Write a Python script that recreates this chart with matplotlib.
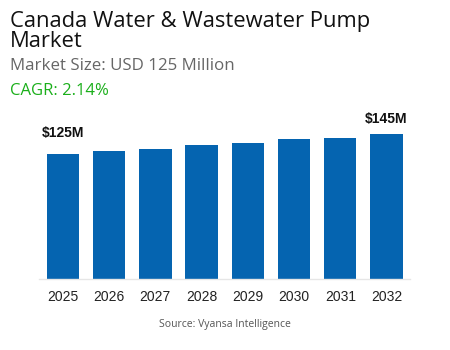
import matplotlib
matplotlib.use("Agg")
import matplotlib.pyplot as plt

years = ["2025", "2026", "2027", "2028", "2029", "2030", "2031", "2032"]
values = [125, 127.6, 130.5, 134.3, 136.2, 140.1, 141.5, 145]
first_label = "$125M"
last_label = "$145M"

title = "Canada Water & Wastewater Pump\nMarket"
subtitle = "Market Size: USD 125 Million"
cagr = "CAGR: 2.14%"
source = "Source: Vyansa Intelligence"

bar_color = "#0564b0"

fig = plt.figure(figsize=(4.5, 3.5), dpi=100)
fig.patch.set_facecolor("white")

ax = fig.add_axes([0.0873, 0.2029, 0.824, 0.457])
x = range(len(years))
ax.bar(x, values, width=0.7, color=bar_color, zorder=2)
ax.set_xlim(-0.51, len(years) - 0.49)
ax.set_ylim(0, 160)
ax.set_xticks(list(x))
ax.set_xticklabels(years, fontsize=10, family="Liberation Sans", color="#222222")
ax.tick_params(axis="x", length=0, pad=8)
ax.set_yticks([])
for s in ["top", "right", "left"]:
    ax.spines[s].set_visible(False)
ax.spines["bottom"].set_color("#e6e6e6")
ax.spines["bottom"].set_linewidth(1)

ax.annotate(first_label, (0, values[0]), xytext=(0, 10), textcoords="offset points",
            ha="center", va="bottom", fontsize=10, fontweight="bold",
            family="Liberation Sans", color="#111111")
ax.annotate(last_label, (len(years) - 1, values[-1]), xytext=(0, 6), textcoords="offset points",
            ha="center", va="bottom", fontsize=10, fontweight="bold",
            family="Liberation Sans", color="#111111")

fig.text(10 / 450, 1 - 47 / 350, title, fontsize=15.8, family="Open Sans", color="#111111",
         ha="left", va="baseline", linespacing=0.92)
fig.text(10 / 450, 1 - 70 / 350, subtitle, fontsize=12.2, family="Open Sans", color="#666666",
         ha="left", va="baseline")
fig.text(10 / 450, 1 - 95 / 350, cagr, fontsize=12, family="Open Sans", color="#1aaf1a",
         ha="left", va="baseline")
fig.text(0.5, 1 - 325 / 350, source, fontsize=7.5, family="Open Sans", color="#555555",
         ha="center", va="center")

fig.savefig("out.png", dpi=100)
